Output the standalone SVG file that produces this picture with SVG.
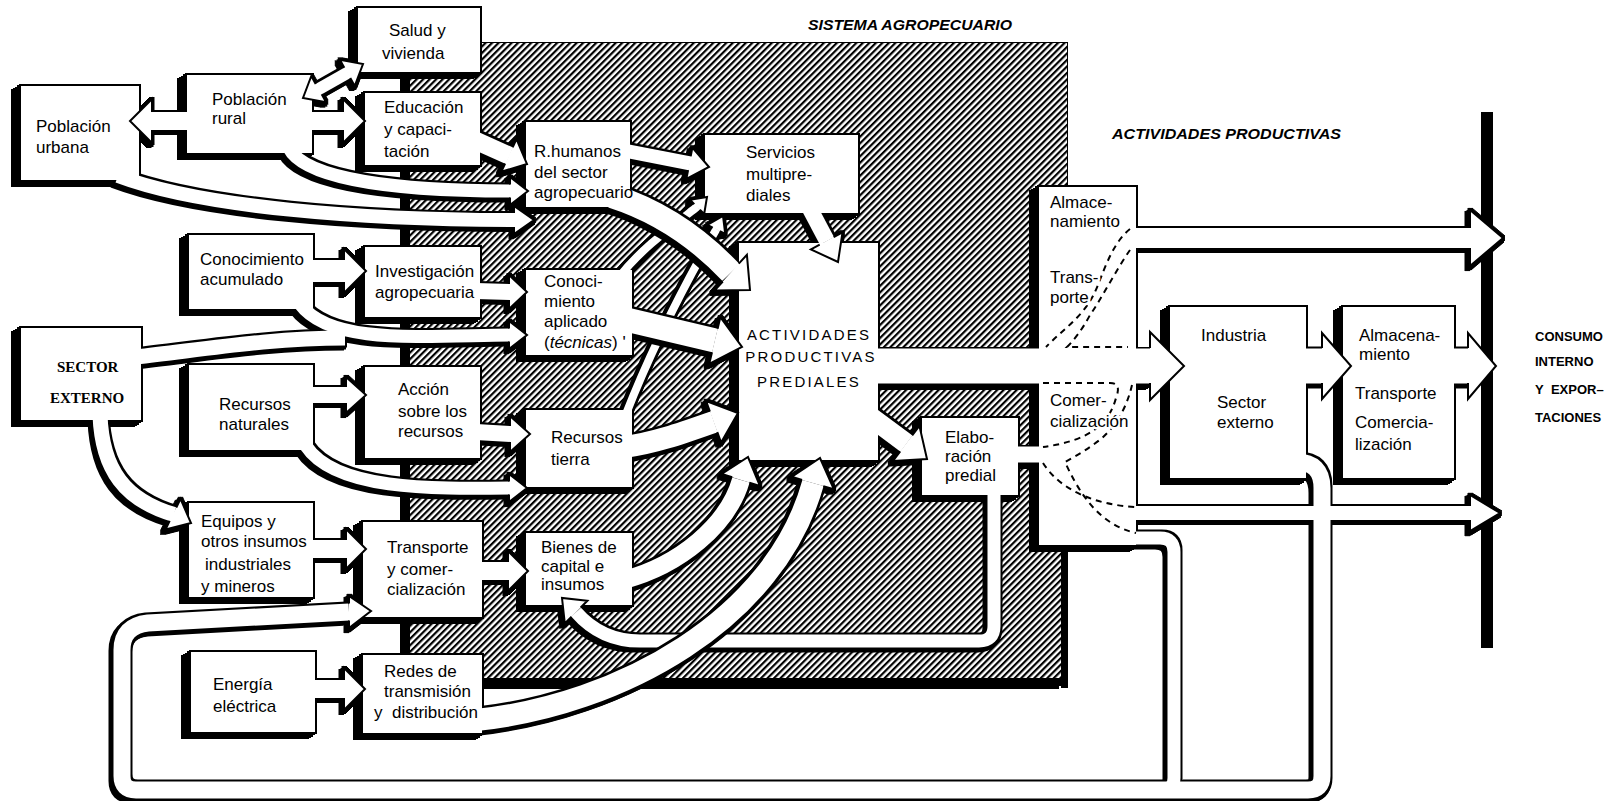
<svg xmlns="http://www.w3.org/2000/svg" xmlns:xlink="http://www.w3.org/1999/xlink" width="1619" height="801" viewBox="0 0 1619 801">
<style>
.t{font-family:"Liberation Sans",Arial,Helvetica,sans-serif;font-size:17px;fill:#000}
.halo{paint-order:stroke;stroke:#fff;stroke-width:5px;stroke-linejoin:round}
.act{font-size:15px;letter-spacing:2.2px}
.sec{font-family:"Liberation Serif","Times New Roman",serif;font-size:15px;font-weight:bold;fill:#000}
.hdr{font-family:"Liberation Sans",Arial,sans-serif;font-weight:bold;font-style:italic;font-size:15.5px;fill:#000}
.cons{font-family:"Liberation Sans",Arial,sans-serif;font-weight:bold;font-size:13px;fill:#000}
.dash{fill:none;stroke:#000;stroke-width:2;stroke-dasharray:6 5}
.under{fill:#000;stroke:#000}
.over{fill:#fff;stroke:#fff}
.head{fill:#fff;stroke:#000;stroke-width:2;stroke-linejoin:miter}
.box{fill:#fff}
</style>
<defs>
  <pattern id="hatch" patternUnits="userSpaceOnUse" width="4.6" height="10" patternTransform="rotate(45)">
    <rect width="4.6" height="10" fill="#fff"/>
    <rect width="2.2" height="10" fill="#000"/>
  </pattern>
  <!-- extruded black edge under raised boxes -->
  <filter id="exB" filterUnits="userSpaceOnUse" x="0" y="0" width="1619" height="801">
    <feMorphology in="SourceAlpha" operator="dilate" radius="2" result="d"/>
    <feOffset in="d" dx="-2" dy="1.25" result="o1"/>
    <feOffset in="d" dx="-4" dy="2.5" result="o2"/>
    <feOffset in="d" dx="-6" dy="3.75" result="o3"/>
    <feOffset in="d" dx="-8" dy="5" result="o4"/>
    <feMerge><feMergeNode in="o4"/><feMergeNode in="o3"/><feMergeNode in="o2"/><feMergeNode in="o1"/><feMergeNode in="d"/></feMerge>
  </filter>
  <!-- outline plus small drop edge under the flow bands -->
  <filter id="exP" filterUnits="userSpaceOnUse" x="0" y="0" width="1619" height="801">
    <feMorphology in="SourceAlpha" operator="dilate" radius="2" result="d"/>
    <feOffset in="d" dx="-1.5" dy="1.5" result="o1"/>
    <feOffset in="d" dx="-3" dy="3" result="o2"/>
    <feMerge><feMergeNode in="o2"/><feMergeNode in="o1"/><feMergeNode in="d"/></feMerge>
  </filter>
  <filter id="exH" filterUnits="userSpaceOnUse" x="0" y="0" width="1619" height="801">
    <feMorphology in="SourceAlpha" operator="dilate" radius="0.8" result="d"/>
    <feOffset in="d" dx="-3" dy="3.3" result="o1"/>
    <feOffset in="d" dx="-6" dy="6.6" result="o2"/>
    <feOffset in="d" dx="-9" dy="10" result="o3"/>
    <feMerge><feMergeNode in="o3"/><feMergeNode in="o2"/><feMergeNode in="o1"/><feMergeNode in="d"/></feMerge>
  </filter>

  <!-- box outlines -->
  <rect id="b-salud" x="358" y="8" width="122" height="64"/>
  <rect id="b-rural" x="187" y="75" width="125" height="78"/>
  <rect id="b-urbana" x="21" y="86" width="118" height="94"/>
  <rect id="b-educ" x="365" y="93" width="115" height="72"/>
  <rect id="b-rhum" x="526" y="122" width="104" height="85"/>
  <rect id="b-serv" x="705" y="135" width="153" height="78"/>
  <rect id="b-act" x="739" y="243" width="139" height="217"/>
  <rect id="b-conac" x="189" y="235" width="124" height="74"/>
  <rect id="b-inv" x="365" y="247" width="115" height="70"/>
  <rect id="b-conap" x="526" y="270" width="106" height="85"/>
  <rect id="b-sect" x="21" y="328" width="120" height="92"/>
  <rect id="b-recnat" x="189" y="365" width="124" height="85"/>
  <rect id="b-accion" x="365" y="367" width="115" height="91"/>
  <rect id="b-rectie" x="526" y="410" width="106" height="77"/>
  <rect id="b-elab" x="922" y="418" width="96" height="77"/>
  <rect id="b-equip" x="189" y="503" width="124" height="94"/>
  <rect id="b-transp" x="363" y="522" width="119" height="95"/>
  <rect id="b-bienes" x="526" y="533" width="106" height="72"/>
  <rect id="b-energ" x="191" y="652" width="124" height="80"/>
  <rect id="b-redes" x="363" y="655" width="119" height="78"/>
  <rect id="b-col" x="1039" y="187" width="97" height="358"/>
  <rect id="b-ind" x="1170" y="307" width="136" height="171"/>
  <rect id="b-alm" x="1343" y="307" width="111" height="171"/>
  <rect id="b-chan" x="870" y="349" width="282" height="34"/>
  <rect id="b-pass" x="1012" y="447" width="33" height="15"/>

  <!-- flow bands -->
  <path id="c1" d="M192,121 L151,121" fill="none" stroke-width="18"/>
  <path id="c2" d="M305,121 L344,121" fill="none" stroke-width="18"/>
  <path id="c3" d="M318,89.5 L348,72.5" fill="none" stroke-width="12"/>
  <path id="c4" d="M472,139 L509.5,155.8" fill="none" stroke-width="18"/>
  <path id="c5" d="M289,148 C305,180 400,191 511,191" fill="none" stroke-width="13"/>
  <path id="c6" d="M118,176 C200,207 360,220 515,220" fill="none" stroke-width="14"/>
  <path id="c7" d="M305,271 L345,271" fill="none" stroke-width="22"/>
  <path id="c8" d="M300,304 C330,345 420,336 510,335" fill="none" stroke-width="13"/>
  <path id="c8b" d="M136,357 C200,350 270,338 345,338" fill="none" stroke-width="15"/>
  <path id="c9" d="M476,291 L510,292" fill="none" stroke-width="16"/>
  <path id="c10" d="M305,395 L347,395" fill="none" stroke-width="16"/>
  <path id="c11" d="M306,446 C335,490 430,489 510,488" fill="none" stroke-width="13"/>
  <path id="c12" d="M476,432 L511,434" fill="none" stroke-width="16"/>
  <path id="c13" d="M100,415 C102,470 125,500 174,514.5" fill="none" stroke-width="15"/>
  <path id="c14" d="M305,549 L347,549" fill="none" stroke-width="18"/>
  <path id="c15" d="M307,689 L345,689" fill="none" stroke-width="18"/>
  <path id="c16" d="M476,571 L509,571" fill="none" stroke-width="18"/>
  <path id="c17" d="M624,150.5 L690,163.3" fill="none" stroke-width="14"/>
  <path id="c18" d="M612,196 C665,213 705,245 731,272.6" fill="none" stroke-width="24"/>
  <path id="c19" d="M624,319 L715,340.5" fill="none" stroke-width="24"/>
  <path id="c20" d="M624,447 C655,443 685,432 714,421.8" fill="none" stroke-width="22"/>
  <path id="c21" d="M809,207 L827,241" fill="none" stroke-width="16"/>
  <path id="c22" d="M624,580 C680,565 728,525 741,480" fill="none" stroke-width="18"/>
  <path id="c23" d="M476,720 C620,705 775,620 813,483" fill="none" stroke-width="22"/>
  <path id="c24" d="M994,490 L994,626 Q994,641 979,641 L640,641 C610,641 590,628 576.1,612.1" fill="none" stroke-width="13"/>
  <path id="c25" d="M868,415 L906.5,443.6" fill="none" stroke-width="20"/>
  <path id="s1" d="M620,276 C640,250 670,228 697.5,206.5" fill="none" stroke-width="8"/>
  <path id="s2" d="M626,414 C655,340 690,275 716.5,229" fill="none" stroke-width="8"/>
  <path id="pa" d="M1296,462 Q1322,462 1322,488 L1322,776 Q1322,790 1308,790 L136,790 Q122,790 122,776 L122,650 Q122,626 148,623 L349,612" fill="none" stroke-width="17"/>
  <path id="pb" d="M1128,538 L1160,538 Q1174,538 1174,552 L1174,778 Q1174,790 1160,790 L1140,790" fill="none" stroke-width="13"/>
  <path id="up" d="M1128,238 L1471,238" fill="none" stroke-width="20"/>
  <path id="lo" d="M1128,513 L1471,513" fill="none" stroke-width="14"/>
  <path id="ir" d="M1300,366 L1323,366" fill="none" stroke-width="35"/>
  <path id="rb" d="M1450,366 L1469,366" fill="none" stroke-width="35"/>

  <!-- arrowheads -->
  <path id="hc1" d="M152,112 L152,99 L130,121 L152,143 L152,130"/>
  <path id="hc2" d="M343,112 L343,99 L365,121 L343,143 L343,130"/>
  <path id="hc3a" d="M315.7,83.9 L311.3,76 L303,98 L326.1,102.2 L321.7,94.3"/>
  <path id="hc3b" d="M350.3,78.1 L354.7,86 L363,64 L339.9,59.8 L344.3,67.7"/>
  <path id="hc4" d="M505.1,163.7 L501.3,171.8 L527,164 L516.5,139.2 L512.7,147.3"/>
  <path id="hc5" d="M510,184.5 L510,177 L528,191 L510,205 L510,197.5"/>
  <path id="hc6" d="M514,213 L514,206 L534,220 L514,234 L514,227"/>
  <path id="hc7" d="M344,260 L344,249 L366,271 L344,293 L344,282"/>
  <path id="hc8" d="M509,328.5 L509,321 L527,335 L509,349 L509,341.5"/>
  <path id="hc9" d="M509,284 L509,275 L527,292 L509,309 L509,300"/>
  <path id="hc10" d="M346,387 L346,377 L366,395 L346,413 L346,403"/>
  <path id="hc11" d="M509,481.5 L509,474 L527,488 L509,502 L509,494.5"/>
  <path id="hc12" d="M510,426 L510,416 L530,434 L510,452 L510,442"/>
  <path id="hc13" d="M169.7,520.9 L165.5,529.5 L191,523 L180.5,498.9 L176.3,507.5"/>
  <path id="hc14" d="M346,540 L346,529 L366,549 L346,569 L346,558"/>
  <path id="hc15" d="M344,680 L344,668 L365,689 L344,710 L344,698"/>
  <path id="hc16" d="M508,562 L508,551 L528,571 L508,591 L508,580"/>
  <path id="hc17" d="M688.1,170.1 L686.4,178.9 L709,167 L692.4,147.5 L690.7,156.3"/>
  <path id="hc18" d="M722.8,281.5 L714.7,290.4 L750,290 L746.9,254.8 L738.8,263.7"/>
  <path id="hc19" d="M712,352.2 L709.2,363.9 L742,347 L720.4,317.1 L717.6,328.8"/>
  <path id="hc20" d="M717.3,432.1 L721.1,442.5 L738,413 L706.1,401.1 L709.9,411.5"/>
  <path id="hc21" d="M819.7,244.7 L810.9,249.4 L838,262 L842.5,232.4 L833.7,237.1"/>
  <path id="hc22" d="M749.4,482.6 L759.9,485.9 L748,457 L721.7,473.9 L732.2,477.2"/>
  <path id="hc23" d="M823.3,486.1 L833.8,489.2 L820,458 L791.6,476.8 L802.1,479.9"/>
  <path id="hc24" d="M580.7,607.5 L587.4,600.8 L562,598 L564.8,623.4 L571.5,616.7"/>
  <path id="hc25" d="M900.2,451.4 L893,461 L927,459 L919.4,425.8 L912.2,435.4"/>
  <path id="hs1" d="M699.9,209.7 L704.2,214 L707,197 L690,199.8 L694.3,204.1"/>
  <path id="hs2" d="M719.9,231.2 L725.2,233.9 L723,216 L707.4,224.9 L712.7,227.6"/>
  <path id="hpa" d="M349,603.5 L349,596 L371,611 L349,628 L349,620.5"/>
  <path id="hmain" d="M1150,348 L1150,332 L1184,366 L1150,400 L1150,383"/>
  <path id="hir" d="M1322,348 L1322,333 L1351,366 L1322,399 L1322,383"/>
  <path id="hrb" d="M1468,348 L1468,333 L1496,366 L1468,399 L1468,383"/>
  <path id="hup" d="M1470,228 L1470,210 L1503,238 L1470,266 L1470,248"/>
  <path id="hlo" d="M1470,506 L1470,495 L1500,513 L1470,531 L1470,520"/>
</defs>

<rect width="1619" height="801" fill="#fff"/>

<!-- hatched field of the farm system -->
<g id="sistema-agropecuario">
  <rect x="410" y="43" width="657" height="635" fill="#000" filter="url(#exH)"/>
  <rect x="410" y="43" width="657" height="635" fill="url(#hatch)"/>
  <rect x="1061" y="545" width="7" height="143" fill="#000"/>
</g>

<!-- raised edges of all boxes -->
<g id="box-edges" filter="url(#exB)" fill="#000">
  <use href="#b-salud"/><use href="#b-rural"/><use href="#b-urbana"/><use href="#b-educ"/>
  <use href="#b-rhum"/><use href="#b-serv"/><use href="#b-act"/><use href="#b-conac"/>
  <use href="#b-inv"/><use href="#b-conap"/><use href="#b-sect"/><use href="#b-recnat"/>
  <use href="#b-accion"/><use href="#b-rectie"/><use href="#b-elab"/><use href="#b-equip"/>
  <use href="#b-transp"/><use href="#b-bienes"/><use href="#b-energ"/><use href="#b-redes"/>
  <use href="#b-col"/><use href="#b-ind"/><use href="#b-alm"/><use href="#b-chan"/><use href="#b-pass"/>
</g>

<g id="connectors">
  <g filter="url(#exP)" class="under">
    <use href="#c1"/><use href="#c2"/><use href="#c3"/><use href="#c4"/><use href="#c5"/><use href="#c6"/>
    <use href="#c7"/><use href="#c8"/><use href="#c8b"/><use href="#c9"/><use href="#c10"/><use href="#c11"/>
    <use href="#c12"/><use href="#c13"/><use href="#c14"/><use href="#c15"/><use href="#c16"/><use href="#c17"/>
    <use href="#c20"/><use href="#c21"/><use href="#c22"/><use href="#c24"/><use href="#c25"/>
    <use href="#s1"/><use href="#s2"/><use href="#pa"/><use href="#pb"/><use href="#up"/><use href="#lo"/>
    <use href="#ir"/><use href="#rb"/>
    <use href="#hc1"/><use href="#hc2"/><use href="#hc3a"/><use href="#hc3b"/><use href="#hc4"/><use href="#hc5"/>
    <use href="#hc6"/><use href="#hc7"/><use href="#hc8"/><use href="#hc9"/><use href="#hc10"/><use href="#hc11"/>
    <use href="#hc12"/><use href="#hc13"/><use href="#hc14"/><use href="#hc15"/><use href="#hc16"/><use href="#hc17"/>
    <use href="#hc20"/><use href="#hc21"/><use href="#hc22"/><use href="#hc24"/><use href="#hc25"/>
    <use href="#hs1"/><use href="#hs2"/><use href="#hpa"/><use href="#hup"/><use href="#hlo"/>
  </g>
  <g class="over">
    <use href="#b-chan"/><use href="#b-pass"/>
    <use href="#c1"/><use href="#c2"/><use href="#c3"/><use href="#c4"/><use href="#c5"/><use href="#c6"/>
    <use href="#c7"/><use href="#c8"/><use href="#c8b"/><use href="#c9"/><use href="#c10"/><use href="#c11"/>
    <use href="#c12"/><use href="#c13"/><use href="#c14"/><use href="#c15"/><use href="#c16"/><use href="#c17"/>
    <use href="#c20"/><use href="#c21"/><use href="#c22"/><use href="#c24"/><use href="#c25"/>
    <use href="#s1"/><use href="#s2"/><use href="#pa"/><use href="#pb"/><use href="#up"/><use href="#lo"/>
    <use href="#ir"/><use href="#rb"/>
  </g>
  <g filter="url(#exP)" class="under">
    <use href="#c18"/><use href="#c19"/><use href="#c23"/>
    <use href="#hc18"/><use href="#hc19"/><use href="#hc23"/>
  </g>
  <g class="over">
    <use href="#c18"/><use href="#c19"/><use href="#c23"/>
  </g>
</g>

<!-- nodes -->
<g id="n-salud"><use href="#b-salud" class="box"/><text class="t" x="389" y="36">Salud y</text><text class="t" x="382" y="59">vivienda</text></g>
<g id="n-rural"><use href="#b-rural" class="box"/><text class="t" x="212" y="105">Población</text><text class="t" x="212" y="124">rural</text></g>
<g id="n-urbana"><use href="#b-urbana" class="box"/><text class="t" x="36" y="132">Población</text><text class="t" x="36" y="153">urbana</text></g>
<g id="n-educacion"><use href="#b-educ" class="box"/><text class="t" x="384" y="113">Educación</text><text class="t" x="384" y="135">y capaci-</text><text class="t" x="384" y="157">tación</text></g>
<g id="n-rhumanos"><use href="#b-rhum" class="box"/><text class="t" x="534" y="157">R.humanos</text><text class="t" x="534" y="178">del sector</text><text class="t" x="534" y="198">agropecuario</text></g>
<g id="n-servicios"><use href="#b-serv" class="box"/><text class="t" x="746" y="158">Servicios</text><text class="t" x="746" y="180">multipre-</text><text class="t" x="746" y="201">diales</text></g>
<g id="n-actividades"><use href="#b-act" class="box"/><text class="t act" x="809" y="340" text-anchor="middle">ACTIVIDADES</text><text class="t act" x="811" y="362" text-anchor="middle">PRODUCTIVAS</text><text class="t act" x="809" y="387" text-anchor="middle">PREDIALES</text></g>
<g id="n-conocimiento-acumulado"><use href="#b-conac" class="box"/><text class="t" x="200" y="265">Conocimiento</text><text class="t" x="200" y="285">acumulado</text></g>
<g id="n-investigacion"><use href="#b-inv" class="box"/><text class="t" x="375" y="277">Investigación</text><text class="t" x="375" y="298">agropecuaria</text></g>
<g id="n-conocimiento-aplicado"><use href="#b-conap" class="box"/><text class="t" x="544" y="287">Conoci-</text><text class="t" x="544" y="307">miento</text><text class="t" x="544" y="327">aplicado</text><text class="t" x="544" y="348">(<tspan font-style="italic">técnicas</tspan>) '</text></g>
<g id="n-sector-externo"><use href="#b-sect" class="box"/><text class="sec" x="57" y="372">SECTOR</text><text class="sec" x="50" y="403">EXTERNO</text></g>
<g id="n-recursos-naturales"><use href="#b-recnat" class="box"/><text class="t" x="219" y="410">Recursos</text><text class="t" x="219" y="430">naturales</text></g>
<g id="n-accion"><use href="#b-accion" class="box"/><text class="t" x="398" y="395">Acción</text><text class="t" x="398" y="417">sobre los</text><text class="t" x="398" y="437">recursos</text></g>
<g id="n-recursos-tierra"><use href="#b-rectie" class="box"/><text class="t" x="551" y="443">Recursos</text><text class="t" x="551" y="465">tierra</text></g>
<g id="n-elaboracion"><use href="#b-elab" class="box"/><text class="t" x="945" y="443">Elabo-</text><text class="t" x="945" y="462">ración</text><text class="t" x="945" y="481">predial</text></g>
<g id="n-equipos"><use href="#b-equip" class="box"/><text class="t" x="201" y="527">Equipos y</text><text class="t" x="201" y="547">otros insumos</text><text class="t" x="205" y="570">industriales</text><text class="t" x="201" y="592">y mineros</text></g>
<g id="n-transporte"><use href="#b-transp" class="box"/><text class="t" x="387" y="553">Transporte</text><text class="t" x="387" y="575">y comer-</text><text class="t" x="387" y="595">cialización</text></g>
<g id="n-bienes"><use href="#b-bienes" class="box"/><text class="t" x="541" y="553">Bienes de</text><text class="t" x="541" y="572">capital e</text><text class="t" x="541" y="590">insumos</text></g>
<g id="n-energia"><use href="#b-energ" class="box"/><text class="t" x="213" y="690">Energía</text><text class="t" x="213" y="712">eléctrica</text></g>
<g id="n-redes"><use href="#b-redes" class="box"/><text class="t" x="384" y="677">Redes de</text><text class="t" x="384" y="697">transmisión</text><text class="t" x="374" y="718">y&#160; distribución</text></g>
<g id="n-almacenamiento-predial">
  <use href="#b-col" class="box"/>
  <!-- dashed routes through storage, transport and trade -->
  <g id="routes">
    <path class="dash" d="M1130,229 C1110,245 1102,278 1094,294 C1082,318 1062,330 1046,347"/>
    <path class="dash" d="M1130,250 C1116,270 1102,298 1090,315 C1082,330 1074,340 1067,347 L1128,347"/>
    <path class="dash" d="M1043,383 L1110,383 Q1122,383 1116,398 C1110,420 1095,440 1043,447"/>
    <path class="dash" d="M1132,385 C1128,402 1120,422 1102,438 C1090,448 1076,456 1065,462 C1080,495 1100,525 1136,533"/>
    <path class="dash" d="M1043,463 C1060,490 1095,505 1136,507"/>
  </g>
  <text class="t halo" x="1050" y="208">Almace-</text><text class="t halo" x="1050" y="227">namiento</text><text class="t halo" x="1050" y="283">Trans-</text><text class="t halo" x="1050" y="303">porte</text><text class="t halo" x="1050" y="406">Comer-</text><text class="t halo" x="1050" y="427">cialización</text>
</g>
<g id="n-industria"><use href="#b-ind" class="box"/><text class="t" x="1201" y="341">Industria</text><text class="t" x="1217" y="408">Sector</text><text class="t" x="1217" y="428">externo</text></g>
<g id="n-almacenamiento"><use href="#b-alm" class="box"/><text class="t" x="1359" y="341">Almacena-</text><text class="t" x="1359" y="360">miento</text><text class="t" x="1355" y="399">Transporte</text><text class="t" x="1355" y="428">Comercia-</text><text class="t" x="1355" y="450">lización</text></g>

<!-- consumption boundary -->
<rect id="limite-consumo" x="1481" y="112" width="12" height="536" fill="#000"/>

<g id="arrowheads" class="head">
  <use href="#hc1"/><use href="#hc2"/><use href="#hc3a"/><use href="#hc3b"/><use href="#hc4"/><use href="#hc5"/>
  <use href="#hc6"/><use href="#hc7"/><use href="#hc8"/><use href="#hc9"/><use href="#hc10"/><use href="#hc11"/>
  <use href="#hc12"/><use href="#hc13"/><use href="#hc14"/><use href="#hc15"/><use href="#hc16"/><use href="#hc17"/>
  <use href="#hc18"/><use href="#hc19"/><use href="#hc20"/><use href="#hc21"/><use href="#hc22"/><use href="#hc23"/>
  <use href="#hc24"/><use href="#hc25"/><use href="#hs1"/><use href="#hs2"/><use href="#hpa"/>
  <use href="#hmain"/><use href="#hir"/><use href="#hrb"/><use href="#hup"/><use href="#hlo"/>
</g>

<!-- section titles -->
<g id="titles">
  <text class="hdr" x="808" y="30" textLength="204" lengthAdjust="spacingAndGlyphs">SISTEMA AGROPECUARIO</text>
  <text class="hdr" x="1112" y="139" textLength="229" lengthAdjust="spacingAndGlyphs">ACTIVIDADES PRODUCTIVAS</text>
  <text class="cons" x="1535" y="341">CONSUMO</text>
  <text class="cons" x="1535" y="366">INTERNO</text>
  <text class="cons" x="1535" y="394">Y&#160;&#160;EXPOR–</text>
  <text class="cons" x="1535" y="422">TACIONES</text>
</g>
</svg>
